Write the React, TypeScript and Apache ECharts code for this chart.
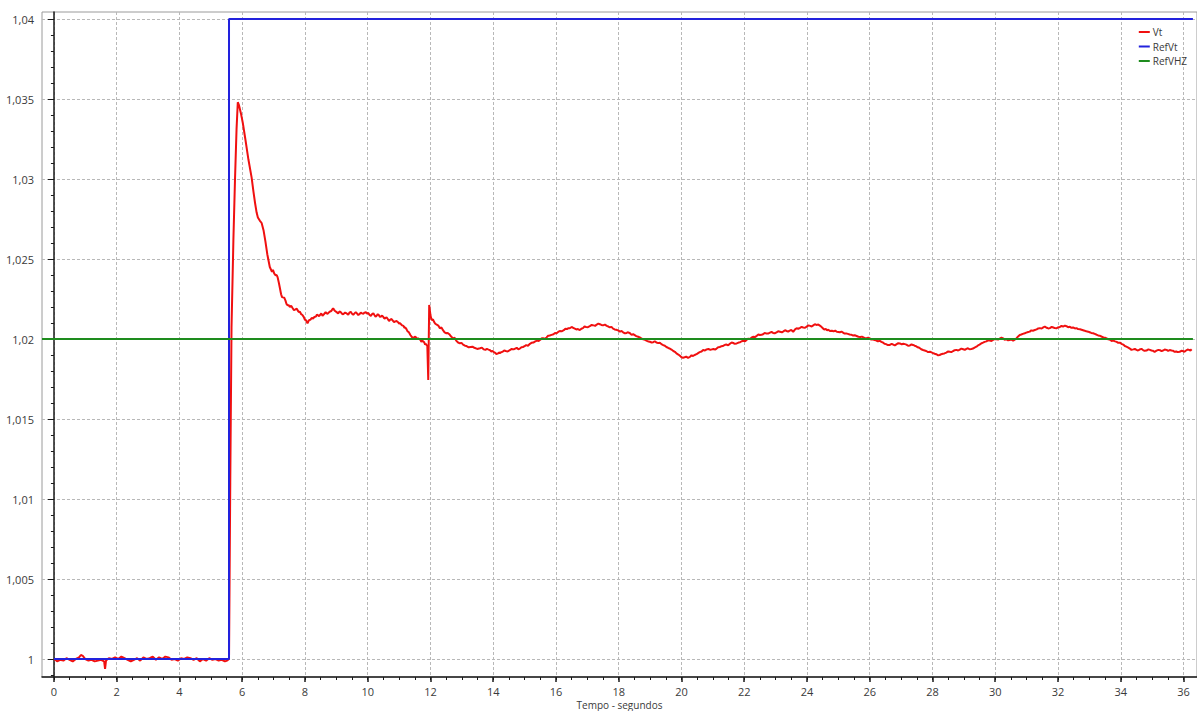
import React, { useEffect, useRef } from "react";
import * as echarts from "echarts";

// Time axis (seconds) and voltage axis (pu) ranges
const X_MIN = -0.38;
const X_MAX = 36.43;
const Y_MIN = 0.998875;
const Y_MAX = 1.0404375;

const X_TITLE = "Tempo - segundos";

const xMajorTicks = [0, 2, 4, 6, 8, 10, 12, 14, 16, 18, 20, 22, 24, 26, 28, 30, 32, 34, 36];
const yMajorTicks = [1, 1.005, 1.01, 1.015, 1.02, 1.025, 1.03, 1.035, 1.04];
const xMinorTicks = [
  0, 0.5, 1, 1.5, 2, 2.5, 3, 3.5, 4, 4.5, 5, 5.5, 6, 6.5, 7, 7.5, 8, 8.5, 9, 9.5, 10, 10.5, 11, 11.5,
  12, 12.5, 13, 13.5, 14, 14.5, 15, 15.5, 16, 16.5, 17, 17.5, 18, 18.5, 19, 19.5, 20, 20.5, 21, 21.5,
  22, 22.5, 23, 23.5, 24, 24.5, 25, 25.5, 26, 26.5, 27, 27.5, 28, 28.5, 29, 29.5, 30, 30.5, 31, 31.5,
  32, 32.5, 33, 33.5, 34, 34.5, 35, 35.5, 36,
];
const yMinorTicks = [
  0.999, 1, 1.001, 1.002, 1.003, 1.004, 1.005, 1.006, 1.007, 1.008, 1.009, 1.01, 1.011, 1.012, 1.013,
  1.014, 1.015, 1.016, 1.017, 1.018, 1.019, 1.02, 1.021, 1.022, 1.023, 1.024, 1.025, 1.026, 1.027,
  1.028, 1.029, 1.03, 1.031, 1.032, 1.033, 1.034, 1.035, 1.036, 1.037, 1.038, 1.039, 1.04,
];

// Reference voltage step (RefVt)
const refVt: [number, number][] = [
  [0, 1],
  [5.58, 1],
  [5.58, 1.04],
  [36.3, 1.04],
];

// V/Hz limiter reference (RefVHZ)
const refVhz: [number, number][] = [
  [X_MIN, 1.02],
  [36.3, 1.02],
];

// Measured terminal voltage (Vt): pre-step, step response and settling
const vtPreStep: [number, number][] = [
  [0.0, 1.0], [0.05, 0.99995], [0.1, 0.99985], [0.2, 0.99995], [0.3, 0.9999], [0.4, 1.00005],
  [0.5, 0.99995], [0.6, 0.99985], [0.7, 1.0], [0.8, 1.0001], [0.86, 1.00025], [0.92, 1.0002],
  [1.0, 1.0], [1.1, 0.9999], [1.2, 0.99995], [1.3, 0.99985], [1.4, 0.9999], [1.5, 0.99995],
  [1.6, 0.99985], [1.63, 0.99938], [1.66, 0.9999], [1.75, 1.00005], [1.85, 1.0], [1.95, 1.0001],
  [2.05, 1.0], [2.15, 1.00015], [2.25, 1.00005], [2.35, 0.99995], [2.45, 0.99985], [2.55, 0.99995],
  [2.65, 1.00005], [2.75, 0.9999], [2.85, 1.0001], [2.95, 1.0], [3.05, 1.00005], [3.15, 1.00015],
  [3.25, 0.99995], [3.35, 1.0001], [3.45, 1.0], [3.55, 1.00015], [3.65, 1.0001], [3.75, 0.99995],
  [3.85, 1.0], [3.95, 0.9999], [4.05, 1.00005], [4.15, 1.0], [4.25, 1.0001], [4.35, 1.00005],
  [4.45, 0.99995], [4.55, 1.00005], [4.65, 0.99985], [4.75, 1.0], [4.85, 0.9999], [4.95, 1.00005],
  [5.05, 0.99995], [5.15, 1.0], [5.25, 0.9999], [5.35, 0.99995], [5.45, 0.99985], [5.52, 0.9999],
];

const vtStep: [number, number][] = [
  [5.58, 1.0], [5.62, 1.011], [5.66, 1.0207], [5.72, 1.0262], [5.77, 1.0299], [5.82, 1.0331],
  [5.86, 1.0348], [5.9, 1.0346], [5.96, 1.0341], [6.02, 1.0335], [6.1, 1.0325], [6.2, 1.0312],
  [6.3, 1.0301], [6.36, 1.0292], [6.41, 1.0285], [6.46, 1.0279], [6.5, 1.0276], [6.56, 1.0274],
  [6.62, 1.02725], [6.68, 1.0268], [6.74, 1.0261], [6.8, 1.0253], [6.88, 1.0245],
];

const vtSettling: [number, number][] = [
  [6.95, 1.0242], [6.98, 1.02432], [7.02, 1.0241], [7.06, 1.02398], [7.1, 1.024], [7.13, 1.02385],
  [7.17, 1.0235], [7.2, 1.0232], [7.24, 1.0228], [7.27, 1.02262], [7.3, 1.0226], [7.34, 1.02258],
  [7.38, 1.0224], [7.41, 1.0222], [7.45, 1.0221], [7.48, 1.02212], [7.52, 1.022], [7.56, 1.02208],
  [7.6, 1.02195], [7.65, 1.0218], [7.7, 1.02185], [7.74, 1.0219], [7.78, 1.02175], [7.81, 1.02168],
  [7.84, 1.0217], [7.88, 1.02155], [7.92, 1.0215], [7.96, 1.02138], [8.0, 1.0212], [8.03, 1.02118],
  [8.05, 1.02112], [8.08, 1.02098], [8.1, 1.02105], [8.13, 1.02118], [8.17, 1.0212], [8.22, 1.02132],
  [8.26, 1.02128], [8.3, 1.02138], [8.35, 1.0214], [8.38, 1.02152], [8.42, 1.02148], [8.45, 1.02143],
  [8.48, 1.0215], [8.52, 1.0216], [8.56, 1.02145], [8.59, 1.02152], [8.62, 1.02158], [8.66, 1.02168],
  [8.69, 1.0216], [8.72, 1.02158], [8.76, 1.02165], [8.8, 1.02172], [8.84, 1.02175], [8.87, 1.02185],
  [8.9, 1.02192], [8.93, 1.02182], [8.96, 1.02175], [9.01, 1.02168], [9.06, 1.0216], [9.1, 1.02172],
  [9.14, 1.02168], [9.18, 1.02158], [9.22, 1.02155], [9.28, 1.02165], [9.33, 1.0216], [9.38, 1.02152],
  [9.42, 1.02165], [9.46, 1.0217], [9.5, 1.02158], [9.54, 1.02152], [9.58, 1.0216], [9.62, 1.02168],
  [9.65, 1.02162], [9.7, 1.0215], [9.74, 1.02155], [9.78, 1.02165], [9.82, 1.0216], [9.86, 1.02158],
  [9.9, 1.02165], [9.94, 1.02168], [9.97, 1.0216], [10.02, 1.02162], [10.06, 1.0215], [10.1, 1.02145],
  [10.14, 1.02155], [10.18, 1.0216], [10.22, 1.02148], [10.25, 1.0214], [10.28, 1.02144],
  [10.32, 1.02155], [10.36, 1.02148], [10.39, 1.02138], [10.42, 1.0214], [10.46, 1.02146],
  [10.49, 1.0214], [10.53, 1.02128], [10.56, 1.0213], [10.6, 1.02136], [10.64, 1.02125],
  [10.68, 1.02112], [10.71, 1.0212], [10.76, 1.02125], [10.8, 1.02115], [10.84, 1.02105],
  [10.88, 1.0211], [10.92, 1.02112], [10.97, 1.02105], [11.0, 1.02096], [11.03, 1.021],
  [11.06, 1.02092], [11.1, 1.02085], [11.14, 1.02082], [11.17, 1.0207], [11.2, 1.02072],
  [11.24, 1.0206], [11.27, 1.02048], [11.3, 1.02045], [11.33, 1.02036], [11.36, 1.02025],
  [11.38, 1.0202], [11.4, 1.02014], [11.44, 1.02005], [11.47, 1.02008], [11.5, 1.02015],
  [11.54, 1.0201], [11.58, 1.02], [11.61, 1.02004], [11.64, 1.02], [11.68, 1.01995], [11.71, 1.01982],
  [11.74, 1.0199], [11.77, 1.01985], [11.8, 1.0198], [11.83, 1.01965], [11.85, 1.0197],
  [11.88, 1.01962], [11.9, 1.01958], [11.93, 1.01744], [11.96, 1.02213], [12.0, 1.0215],
  [12.02, 1.02132], [12.04, 1.02119], [12.08, 1.02122], [12.12, 1.02105], [12.16, 1.02094],
  [12.2, 1.0209], [12.25, 1.02084], [12.3, 1.02067], [12.35, 1.02072], [12.4, 1.02055],
  [12.45, 1.02042], [12.51, 1.02036], [12.55, 1.02038], [12.6, 1.0203], [12.66, 1.02015],
  [12.72, 1.02004], [12.77, 1.02008], [12.82, 1.0199], [12.88, 1.01978], [12.94, 1.01973],
  [12.99, 1.01976], [13.04, 1.01965], [13.1, 1.01958], [13.15, 1.01956], [13.22, 1.01948],
  [13.28, 1.0195], [13.34, 1.01952], [13.4, 1.01945], [13.49, 1.01938], [13.58, 1.01942],
  [13.64, 1.01946], [13.7, 1.01935], [13.75, 1.01932], [13.8, 1.01938], [13.85, 1.01934],
  [13.89, 1.01931], [13.94, 1.01922], [13.98, 1.01925], [14.02, 1.01918], [14.05, 1.01915],
  [14.1, 1.01906], [14.16, 1.0191], [14.18, 1.01916], [14.21, 1.01912], [14.26, 1.01918],
  [14.3, 1.0192], [14.35, 1.01928], [14.4, 1.01925], [14.46, 1.01922], [14.53, 1.01931],
  [14.59, 1.01938], [14.65, 1.01935], [14.7, 1.0194], [14.75, 1.01945], [14.8, 1.01936],
  [14.85, 1.0194], [14.9, 1.01948], [14.95, 1.0195], [15.0, 1.01955], [15.05, 1.01962],
  [15.11, 1.01958], [15.17, 1.0197], [15.22, 1.01976], [15.28, 1.01978], [15.34, 1.01985],
  [15.4, 1.0199], [15.45, 1.01988], [15.5, 1.01995], [15.55, 1.02005], [15.59, 1.02004],
  [15.65, 1.02002], [15.7, 1.0201], [15.75, 1.0202], [15.8, 1.02022], [15.86, 1.02026],
  [15.92, 1.0203], [15.97, 1.02038], [16.02, 1.02036], [16.07, 1.02044], [16.12, 1.0205],
  [16.18, 1.02048], [16.25, 1.02055], [16.3, 1.02064], [16.35, 1.02062], [16.4, 1.02068],
  [16.44, 1.02067], [16.5, 1.02075], [16.55, 1.0207], [16.6, 1.02065], [16.65, 1.0206],
  [16.7, 1.02062], [16.76, 1.02056], [16.81, 1.02064], [16.86, 1.02068], [16.91, 1.02078],
  [16.96, 1.02075], [17.02, 1.02074], [17.08, 1.0208], [17.14, 1.02088], [17.2, 1.02085],
  [17.25, 1.02082], [17.3, 1.0209], [17.35, 1.02096], [17.4, 1.02092], [17.45, 1.02088],
  [17.5, 1.02085], [17.56, 1.0209], [17.62, 1.02082], [17.67, 1.02078], [17.72, 1.02073],
  [17.77, 1.02076], [17.82, 1.02065], [17.87, 1.0206], [17.92, 1.02058], [17.98, 1.02054],
  [18.04, 1.02046], [18.09, 1.0205], [18.14, 1.02042], [18.2, 1.02035], [18.25, 1.02038],
  [18.3, 1.02042], [18.36, 1.02036], [18.41, 1.02026], [18.46, 1.0203], [18.51, 1.02024],
  [18.56, 1.02018], [18.62, 1.02014], [18.67, 1.0201], [18.72, 1.02004], [18.78, 1.01998],
  [18.84, 1.01995], [18.9, 1.01988], [18.95, 1.01984], [18.99, 1.01983], [19.05, 1.01978],
  [19.1, 1.0198], [19.15, 1.01986], [19.2, 1.01978], [19.26, 1.01974], [19.31, 1.01977],
  [19.36, 1.01968], [19.42, 1.01962], [19.47, 1.01958], [19.52, 1.0195], [19.58, 1.01944],
  [19.63, 1.0194], [19.68, 1.01934], [19.74, 1.01925], [19.79, 1.0192], [19.84, 1.0191],
  [19.9, 1.01903], [19.95, 1.01895], [20.0, 1.01886], [20.05, 1.01883], [20.1, 1.01886],
  [20.15, 1.0189], [20.21, 1.01882], [20.27, 1.01888], [20.32, 1.01898], [20.37, 1.01894],
  [20.42, 1.019], [20.48, 1.01905], [20.53, 1.01912], [20.58, 1.01918], [20.64, 1.01922],
  [20.69, 1.01931], [20.75, 1.01928], [20.8, 1.01935], [20.86, 1.01938], [20.92, 1.01932],
  [20.97, 1.01935], [21.02, 1.01938], [21.07, 1.01934], [21.12, 1.0194], [21.17, 1.01948],
  [21.22, 1.0195], [21.28, 1.01955], [21.34, 1.01958], [21.39, 1.01964], [21.44, 1.01965],
  [21.49, 1.0196], [21.54, 1.0197], [21.6, 1.01978], [21.65, 1.01975], [21.7, 1.0197],
  [21.76, 1.01972], [21.82, 1.01978], [21.87, 1.0198], [21.92, 1.01986], [21.97, 1.01989],
  [22.03, 1.01986], [22.08, 1.01995], [22.13, 1.02002], [22.18, 1.02], [22.23, 1.02008],
  [22.28, 1.02014], [22.34, 1.02012], [22.4, 1.0202], [22.45, 1.02028], [22.5, 1.02025],
  [22.55, 1.02026], [22.6, 1.0203], [22.65, 1.02038], [22.7, 1.02035], [22.76, 1.02034],
  [22.82, 1.0204], [22.87, 1.02044], [22.92, 1.02038], [22.97, 1.02036], [23.03, 1.02042],
  [23.08, 1.02048], [23.14, 1.02045], [23.2, 1.02042], [23.25, 1.02048], [23.3, 1.02055],
  [23.35, 1.0205], [23.4, 1.02046], [23.45, 1.02052], [23.5, 1.02056], [23.56, 1.02045],
  [23.62, 1.0206], [23.67, 1.02067], [23.72, 1.02064], [23.78, 1.0207], [23.83, 1.02076],
  [23.88, 1.02072], [23.94, 1.0207], [23.99, 1.02077], [24.05, 1.02085], [24.1, 1.02082],
  [24.15, 1.02078], [24.2, 1.02085], [24.25, 1.02092], [24.3, 1.02088], [24.36, 1.0209],
  [24.4, 1.02085], [24.45, 1.02078], [24.5, 1.02068], [24.55, 1.0206], [24.6, 1.02062],
  [24.64, 1.02055], [24.68, 1.02058], [24.73, 1.0205], [24.79, 1.02052], [24.85, 1.02048],
  [24.9, 1.02052], [24.95, 1.02045], [25.0, 1.02044], [25.05, 1.02042], [25.1, 1.02046],
  [25.15, 1.0204], [25.2, 1.02034], [25.25, 1.02035], [25.3, 1.02032], [25.36, 1.02028],
  [25.42, 1.02026], [25.47, 1.02022], [25.52, 1.02024], [25.58, 1.02019], [25.64, 1.02014],
  [25.7, 1.02012], [25.75, 1.02015], [25.8, 1.0201], [25.85, 1.02004], [25.9, 1.02005],
  [25.95, 1.02008], [26.0, 1.02004], [26.05, 1.01996], [26.1, 1.01998], [26.15, 1.01994],
  [26.2, 1.01992], [26.26, 1.01985], [26.32, 1.01989], [26.37, 1.01982], [26.42, 1.01978],
  [26.47, 1.0197], [26.52, 1.01968], [26.58, 1.01962], [26.64, 1.01963], [26.7, 1.0197],
  [26.75, 1.01965], [26.8, 1.0196], [26.86, 1.01968], [26.91, 1.01974], [26.96, 1.01972],
  [27.02, 1.01966], [27.07, 1.0197], [27.12, 1.01968], [27.17, 1.01965], [27.22, 1.01958],
  [27.28, 1.0196], [27.33, 1.01966], [27.38, 1.01963], [27.43, 1.01958], [27.48, 1.01955],
  [27.53, 1.01948], [27.58, 1.01945], [27.64, 1.01936], [27.7, 1.01931], [27.75, 1.01928],
  [27.8, 1.01925], [27.86, 1.01918], [27.92, 1.0192], [27.97, 1.01916], [28.02, 1.01912],
  [28.07, 1.01908], [28.12, 1.01905], [28.18, 1.01898], [28.23, 1.019], [28.28, 1.01905],
  [28.33, 1.01908], [28.38, 1.0191], [28.44, 1.01915], [28.5, 1.01922], [28.55, 1.0192],
  [28.6, 1.01918], [28.66, 1.01925], [28.71, 1.0193], [28.76, 1.01932], [28.82, 1.01928],
  [28.87, 1.01934], [28.92, 1.0194], [28.98, 1.01936], [29.03, 1.01932], [29.08, 1.01938],
  [29.13, 1.01942], [29.18, 1.01936], [29.24, 1.01938], [29.29, 1.0194], [29.34, 1.01946],
  [29.4, 1.01952], [29.45, 1.0196], [29.5, 1.01965], [29.55, 1.01972], [29.61, 1.01977],
  [29.66, 1.01982], [29.72, 1.01985], [29.77, 1.01992], [29.82, 1.0199], [29.88, 1.01988],
  [29.93, 1.01994], [29.98, 1.02], [30.04, 1.01998], [30.09, 1.01996], [30.14, 1.02002],
  [30.2, 1.02008], [30.25, 1.02004], [30.3, 1.01996], [30.36, 1.01998], [30.41, 1.01992],
  [30.46, 1.01993], [30.52, 1.01996], [30.57, 1.01989], [30.62, 1.01996], [30.68, 1.02005],
  [30.73, 1.02016], [30.78, 1.02025], [30.83, 1.02028], [30.88, 1.02032], [30.94, 1.02036],
  [30.99, 1.0204], [31.05, 1.02044], [31.1, 1.02046], [31.15, 1.02054], [31.2, 1.02052],
  [31.26, 1.02056], [31.32, 1.0206], [31.37, 1.02066], [31.42, 1.02068], [31.48, 1.02066],
  [31.53, 1.02073], [31.58, 1.02078], [31.64, 1.0207], [31.69, 1.02066], [31.74, 1.02068],
  [31.8, 1.02076], [31.85, 1.02072], [31.9, 1.02068], [31.95, 1.02067], [32.0, 1.02072],
  [32.06, 1.02075], [32.11, 1.02082], [32.16, 1.02078], [32.22, 1.02084], [32.27, 1.0208],
  [32.32, 1.02074], [32.38, 1.02076], [32.43, 1.0207], [32.48, 1.02072], [32.54, 1.02066],
  [32.59, 1.02068], [32.64, 1.02062], [32.7, 1.02061], [32.75, 1.02058], [32.8, 1.02055],
  [32.85, 1.02052], [32.9, 1.02048], [32.96, 1.02046], [33.01, 1.02042], [33.06, 1.02038],
  [33.12, 1.02036], [33.17, 1.02032], [33.22, 1.02028], [33.28, 1.02022], [33.34, 1.0202],
  [33.4, 1.02014], [33.45, 1.0201], [33.5, 1.02008], [33.55, 1.02004], [33.6, 1.01998],
  [33.66, 1.01996], [33.71, 1.01988], [33.76, 1.0199], [33.82, 1.01985], [33.87, 1.01982],
  [33.92, 1.01976], [33.97, 1.01977], [34.02, 1.0197], [34.08, 1.01965], [34.13, 1.01956],
  [34.18, 1.01952], [34.24, 1.01946], [34.29, 1.0194], [34.34, 1.01932], [34.4, 1.01935],
  [34.45, 1.01938], [34.5, 1.01932], [34.55, 1.01928], [34.6, 1.01934], [34.66, 1.01938],
  [34.71, 1.01931], [34.76, 1.01926], [34.82, 1.01928], [34.88, 1.01935], [34.93, 1.01932],
  [34.98, 1.01928], [35.03, 1.01926], [35.08, 1.0192], [35.14, 1.01927], [35.2, 1.01932],
  [35.25, 1.0193], [35.3, 1.01924], [35.35, 1.01928], [35.4, 1.01934], [35.46, 1.01932],
  [35.51, 1.01926], [35.56, 1.01931], [35.62, 1.01928], [35.67, 1.01926], [35.72, 1.0192],
  [35.77, 1.01922], [35.82, 1.01918], [35.88, 1.0192], [35.93, 1.01926], [35.98, 1.01925],
  [36.03, 1.0192], [36.08, 1.01928], [36.13, 1.01934], [36.18, 1.01932], [36.22, 1.01928],
  [36.26, 1.01936],
];

const vt: [number, number][] = [...vtPreStep, ...vtStep, ...vtSettling];

const FONT = "'Open Sans', 'Noto Sans', sans-serif";
const TEXT_COLOR = "#3a3a3a";

export default function App() {
  const ref = useRef<HTMLDivElement>(null);

  useEffect(() => {
    if (!ref.current) return;
    const chart = echarts.init(ref.current, undefined, { renderer: "svg" });

    const formatNum = (v: number) => String(v).replace(".", ",");

    chart.setOption({
      animation: false,
      backgroundColor: "#ffffff",
      textStyle: { fontFamily: FONT },
      grid: {
        left: 42,
        right: 0,
        top: 12,
        bottom: 34,
        outerBoundsMode: "none",
        containLabel: false,
        show: true,
        borderColor: "#9a9a9a",
        borderWidth: 1,
      },
      legend: {
        orient: "vertical",
        right: 5,
        top: 22,
        align: "left",
        icon: "rect",
        itemWidth: 11,
        itemHeight: 2,
        itemGap: 4.5,
        textStyle: { fontSize: 10, color: TEXT_COLOR, fontFamily: FONT, padding: [0, 0, 0, -2] },
        data: ["Vt", "RefVt", "RefVHZ"],
      },
      // Time-axis title, centred under the plot area
      graphic: [
        {
          type: "text",
          x: 619.5,
          y: 699,
          silent: true,
          style: {
            text: X_TITLE,
            fontSize: 10,
            lineHeight: 11,
            fontFamily: FONT,
            fill: TEXT_COLOR,
            align: "center",
            verticalAlign: "top",
          },
        },
      ],
      xAxis: [
        {
          type: "value",
          min: X_MIN,
          max: X_MAX,
          axisLine: { show: true, lineStyle: { color: "#1a1a1a", width: 1.5 } },
          axisTick: {
            show: true,
            customValues: xMajorTicks,
            length: 5,
            lineStyle: { color: "#1a1a1a", width: 1.5 },
          },
          axisLabel: {
            customValues: xMajorTicks,
            fontSize: 11,
            lineHeight: 12,
            color: TEXT_COLOR,
            margin: 8,
            fontFamily: FONT,
          },
          splitLine: {
            show: true,
            lineStyle: { color: "#b8b8b8", type: [3, 2], width: 1 },
          },
        },
        {
          type: "value",
          min: X_MIN,
          max: X_MAX,
          position: "bottom",
          axisLine: { show: false },
          axisTick: {
            show: true,
            customValues: xMinorTicks,
            length: 3,
            lineStyle: { color: "#1a1a1a", width: 1 },
          },
          axisLabel: { show: false },
          splitLine: { show: false },
        },
      ],
      yAxis: [
        {
          type: "value",
          min: Y_MIN,
          max: Y_MAX,
          axisLine: { show: true, lineStyle: { color: "#1a1a1a", width: 1.5 } },
          axisTick: {
            show: true,
            customValues: yMajorTicks,
            length: 6,
            lineStyle: { color: "#1a1a1a", width: 1 },
          },
          axisLabel: {
            customValues: yMajorTicks,
            formatter: (v: number) => formatNum(v),
            fontSize: 11,
            color: TEXT_COLOR,
            margin: 8,
            fontFamily: FONT,
          },
          splitLine: {
            show: true,
            lineStyle: { color: "#b8b8b8", type: [3, 2], width: 1 },
          },
        },
        {
          type: "value",
          min: Y_MIN,
          max: Y_MAX,
          position: "left",
          axisLine: { show: false },
          axisTick: {
            show: true,
            customValues: yMinorTicks,
            length: 3,
            lineStyle: { color: "#1a1a1a", width: 1 },
          },
          axisLabel: { show: false },
          splitLine: { show: false },
        },
      ],
      series: [
        {
          name: "Vt",
          type: "line",
          data: vt,
          showSymbol: false,
          symbol: "none",
          color: "#f01010",
          lineStyle: { color: "#f01010", width: 2 },
        },
        {
          name: "RefVt",
          type: "line",
          data: refVt,
          showSymbol: false,
          symbol: "none",
          color: "#2222dd",
          lineStyle: { color: "#2222dd", width: 2 },
        },
        {
          name: "RefVHZ",
          type: "line",
          data: refVhz,
          showSymbol: false,
          symbol: "none",
          color: "#1e8c1e",
          lineStyle: { color: "#1e8c1e", width: 2 },
        },
      ],
    });

    return () => chart.dispose();
  }, []);

  return (
    <div
      ref={ref}
      style={{ position: "absolute", left: 0, top: 0, width: 1197, height: 711 }}
    />
  );
}
